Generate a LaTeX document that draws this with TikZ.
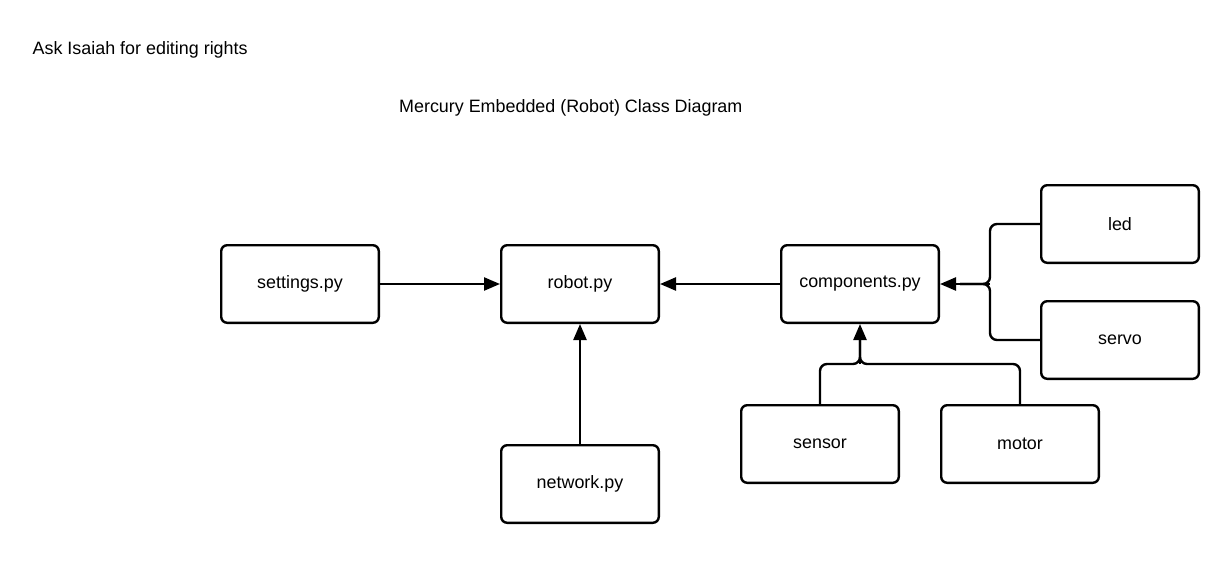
\documentclass[tikz,border=0pt]{standalone}
\usepackage{fontspec}
\setmainfont{Liberation Sans}
\usetikzlibrary{arrows.meta}
\begin{document}
\begin{tikzpicture}[x=1pt,y=-1pt,
  box/.style={draw=black,line width=2.4pt,rounded corners=6pt,minimum width=157.6pt,minimum height=77.6pt,inner sep=0pt,font=\fontsize{17.9}{21}\selectfont,fill=white},
  conn/.style={line width=2.4pt,rounded corners=7pt},
  arr/.style={conn,-{Triangle[length=16pt,width=13pt]}},
  lbl/.style={font=\fontsize{17.9}{21}\selectfont,inner sep=0pt,anchor=base west}]
\fill[white] (0,0) rectangle (1220,560);
\useasboundingbox (0,0) rectangle (1220,560);
\node[lbl] (note) at (32.5,54) {Ask Isaiah for editing rights};
\node[lbl] (title) at (399,112) {Mercury Embedded (Robot) Class Diagram};
\node[box] (settings) at (300,284) {settings.py};
\node[box] (robot) at (580,284) {robot.py};
\node[box] (components) at (860,284) {components.py};
\node[box] (led) at (1120,224) {led};
\node[box] (servo) at (1120,340) {servo};
\node[box] (network) at (580,484) {network.py};
\node[box] (sensor) at (820,444) {sensor};
\node[box] (motor) at (1020,444) {motor};
\coordinate (bus) at (990,284);
\coordinate (hub) at (860,364);
\draw[arr] (settings.east) -- (robot.west);
\draw[arr] (components.west) -- (robot.east);
\draw[arr] (network.north) -- (robot.south);
\draw[conn] (led.west) -| (bus) -- ([xshift=-30pt]bus);
\draw[conn] (servo.west) -| (bus) -- ([xshift=-30pt]bus);
\draw[arr] (bus) -- (components.east);
\draw[conn] (sensor.north) |- (hub) -- ([yshift=30pt]hub);
\draw[conn] (motor.north) |- (hub) -- ([yshift=30pt]hub);
\draw[arr] (hub) -- (components.south);
\end{tikzpicture}
\end{document}
